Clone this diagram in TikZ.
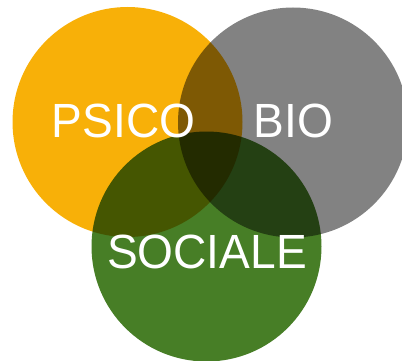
\documentclass[tikz,border=0pt]{standalone}
\usepackage{fontspec}
\setmainfont{Liberation Sans}
\definecolor{psico}{RGB}{248,176,8}
\definecolor{bio}{RGB}{130,130,130}
\definecolor{sociale}{RGB}{71,126,38}
\begin{document}
\begin{tikzpicture}[x=1pt,y=-1pt,
  disc/.style={circle,minimum size=230pt,inner sep=0pt},
  lbl/.style={text=white,font=\fontsize{48}{48}\selectfont,anchor=base,inner sep=0pt,xscale=0.96}]
\useasboundingbox (0,0) rectangle (402,361);
\begin{scope}[blend group=multiply]
  \node[disc,fill=psico] (psico) at (127.5,122) {};
  \node[disc,fill=bio] (bio) at (293,122.5) {};
  \node[disc,fill=sociale] (sociale) at (206.5,246.5) {};
\end{scope}
\node[lbl] (tpsico) at (123.5,137) {PSICO};
\node[lbl] (tbio) at (293.5,137) {BIO};
\node[lbl] (tsociale) at (207,268) {SOCIALE};
\end{tikzpicture}
\end{document}
